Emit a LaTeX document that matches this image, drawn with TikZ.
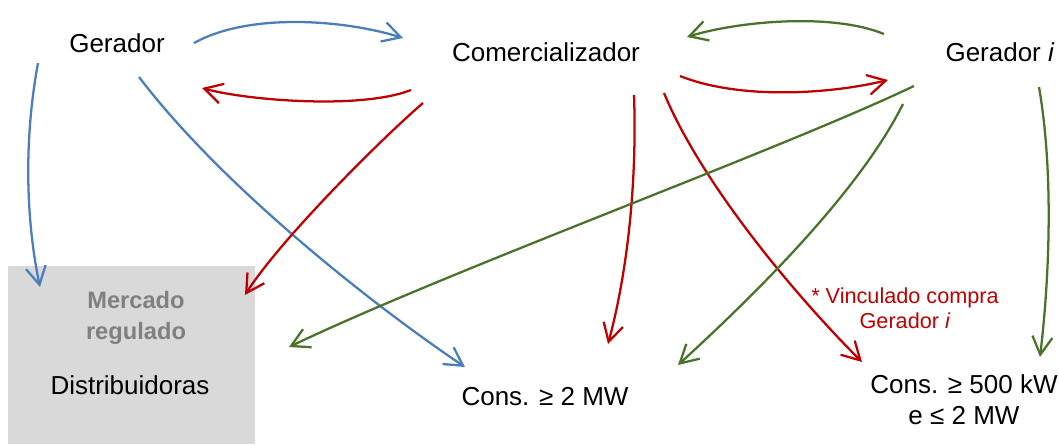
\documentclass[tikz,border=0pt]{standalone}
\usepackage{fontspec}
\setmainfont{Liberation Sans}
\usetikzlibrary{arrows.meta,calc}

\definecolor{flowblue}{HTML}{4A7EBB}
\definecolor{flowred}{HTML}{C00000}
\definecolor{flowgreen}{HTML}{4A7329}
\definecolor{boxgray}{HTML}{D9D9D9}
\definecolor{labelgray}{HTML}{808080}

\tikzset{
  party/.style={inner sep=0pt, font=\fontsize{19.5}{23.25}\selectfont, align=center},
  note/.style={inner sep=0pt, text=flowred, font=\fontsize{16.25}{18.75}\selectfont, align=center},
  market/.style={inner sep=0pt, text=labelgray, font=\fontsize{17.75}{23.25}\selectfont\bfseries, align=center},
  flow/.style={line width=1.7pt, -{Straight Barb[length=13.5pt,width=15pt]}},
  blueflow/.style={flow, draw=flowblue},
  redflow/.style={flow, draw=flowred},
  greenflow/.style={flow, draw=flowgreen}
}

\begin{document}
\begin{tikzpicture}[x=0.75pt, y=-0.75pt]
\useasboundingbox (0,0) rectangle (1059,444);

% regulated market block
\node[fill=boxgray, minimum width=247*0.75pt, minimum height=178*0.75pt, inner sep=0pt] (box) at (131.5,355) {};
\node[market] (merc) at (136,318) {Mercado\\regulado};
\node[party] (dist) at (130,385) {Distribuidoras};

% agents
\node[party] (ger) at (117,43) {Gerador};
\node[party] (com) at (546,52) {Comercializador};
\node[party] (geri) at (1000,52) {Gerador \textit{i}};
\node[party] (c2) at (545,397) {Cons. ≥ 2 MW};
\node[party] (c500) at (964,400) {Cons. ≥ 500 kW\\e ≤ 2 MW};
\node[note] (vinc) at (905,308) {* Vinculado compra\\Gerador \textit{i}};

% Gerador
\draw[blueflow] ($(ger)+(77,0)$) .. controls (250,12) and (345,20) .. ($(com)+(-143,-14)$);
\draw[blueflow] ($(ger)+(-79,20)$) .. controls (22,150) and (28,230) .. ($(box)+(-91.5,-68)$);
\draw[blueflow] ($(ger)+(22,34)$) .. controls (225,190) and (380,310) .. ($(c2)+(-80,-30)$);

% Comercializador
\draw[redflow] ($(com)+(-135,38)$) .. controls (360,110) and (245,100) .. ($(ger)+(85,45)$);
\draw[redflow] ($(com)+(134,24)$) .. controls (740,100) and (830,94) .. ($(geri)+(-112,28)$);
\draw[redflow] ($(com)+(-123,51)$) .. controls (380,140) and (280,240) .. ($(box)+(113.5,-60)$);
\draw[redflow] ($(com)+(88,43)$) .. controls (637,180) and (628,270) .. ($(c2)+(63,-53)$);
\draw[redflow] ($(com)+(118,41)$) .. controls (700,180) and (790,290) .. ($(c500)+(-102,-38)$);

% Gerador i
\draw[greenflow] ($(geri)+(-116,-18)$) .. controls (830,12) and (735,22) .. ($(com)+(141,-15)$);
\draw[greenflow] ($(geri)+(-86,34)$) .. controls (780,150) and (450,270) .. ($(box)+(157.5,-8)$);
\draw[greenflow] ($(geri)+(-97,52)$) .. controls (860,190) and (760,290) .. ($(c2)+(133,-32)$);
\draw[greenflow] ($(geri)+(39,35)$) .. controls (1055,180) and (1048,290) .. ($(c500)+(76,-43)$);
\end{tikzpicture}
\end{document}
